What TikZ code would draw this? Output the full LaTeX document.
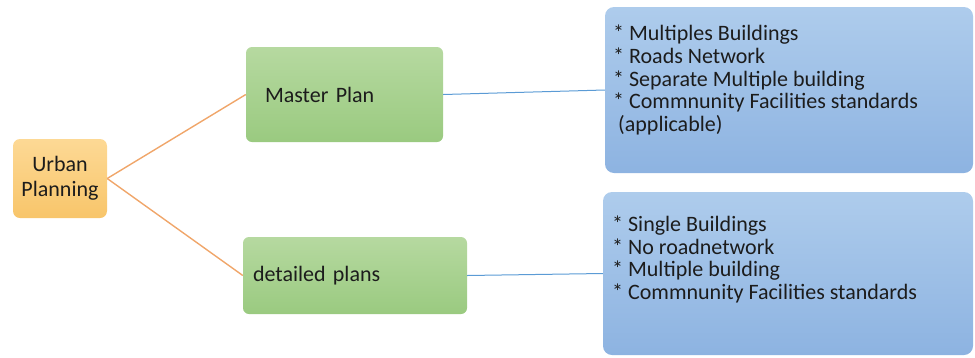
\documentclass[tikz,border=0pt]{standalone}
\usepackage{fontspec}
\setmainfont{Carlito}
\definecolor{orangeTop}{HTML}{FDD995}
\definecolor{orangeBot}{HTML}{F8C56A}
\definecolor{greenTop}{HTML}{B6D9A0}
\definecolor{greenBot}{HTML}{9ACA80}
\definecolor{blueTop}{HTML}{AECCEC}
\definecolor{blueBot}{HTML}{8DB3E1}
\definecolor{orangeLine}{HTML}{F0A66A}
\definecolor{blueLine}{HTML}{5B9BD5}
\definecolor{ink}{HTML}{1C1C1C}
\begin{document}
\begin{tikzpicture}[x=1pt,y=-1pt,
  font=\fontsize{22}{22.7}\selectfont,
  every node/.style={text=ink},
  rootbox/.style={rounded corners=7pt, top color=orangeTop, bottom color=orangeBot,
    align=center, inner sep=0pt, font=\fontsize{22}{25}\selectfont},
  planbox/.style={rounded corners=6pt, top color=greenTop, bottom color=greenBot,
    align=left, inner ysep=0pt},
  listbox/.style={rounded corners=9pt, top color=blueTop, bottom color=blueBot, inner sep=0pt},
  listtext/.style={anchor=west, align=left, inner sep=0pt},
  rootlink/.style={draw=orangeLine, line width=1.4pt},
  listlink/.style={draw=blueLine, line width=1pt}]
\useasboundingbox (0,0) rectangle (975,357);

% root
\node[rootbox, minimum width=94pt, minimum height=79pt] (up) at (60,178.5) {Urban\\Planning};

% plan levels
\node[planbox, minimum width=197pt, minimum height=95pt, inner xsep=19pt, text width=159pt]
  (mp) at (344.5,94.5) {Master Plan};
\node[planbox, minimum width=224pt, minimum height=77pt, inner xsep=10pt, text width=204pt]
  (dp) at (355,275.5) {detailed plans};

% characteristics
\node[listbox, minimum width=368pt, minimum height=166pt] (b1) at (789,90) {};
\node[listbox, minimum width=370pt, minimum height=163pt] (b2) at (788,273.5) {};

\node[listtext] (t1) at (613,80) {* Multiples Buildings\\* Roads Network\\* Separate Multiple building\\* Commnunity Facilities standards\\\hspace*{5pt}(applicable)};
\node[listtext] (t2) at (612,259.5) {* Single Buildings\\* No roadnetwork\\* Multiple building\\* Commnunity Facilities standards};

% connectors
\draw[rootlink] (up.east) -- (mp.west);
\draw[rootlink] (up.east) -- (dp.west);
\draw[listlink] (mp.east) -- (b1.west);
\draw[listlink] (dp.east) -- (b2.west);
\end{tikzpicture}
\end{document}
